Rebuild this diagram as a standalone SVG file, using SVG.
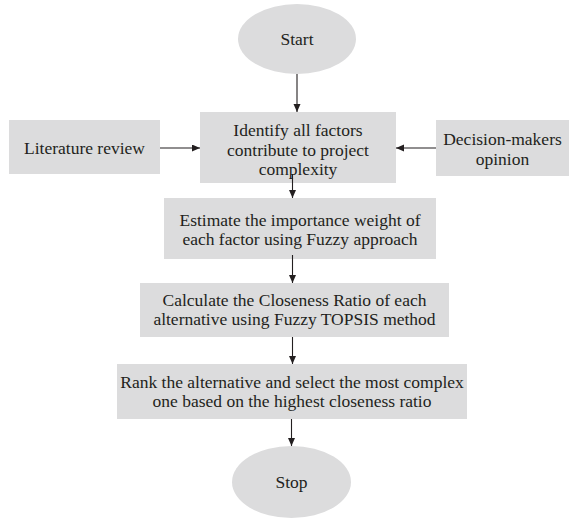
<svg xmlns="http://www.w3.org/2000/svg" width="576" height="520" viewBox="0 0 576 520">
<defs>
<marker id="ah" markerUnits="userSpaceOnUse" markerWidth="10" markerHeight="10" refX="8" refY="3.5" orient="auto">
<path d="M0,0 L8,3.5 L0,7 Z" fill="#231f20"/>
</marker>
<style>
.box{fill:#dcdcdd;stroke:none}
.ell{fill:#dcdcdd;stroke:none}
text{font-family:"Liberation Serif","Times New Roman",serif;font-size:17.5px;fill:#231f20;text-anchor:middle}
.conn line{stroke:#231f20;stroke-width:1.1;marker-end:url(#ah)}
</style>
</defs>
<rect width="576" height="520" fill="#ffffff"/>
<g id="start"><ellipse class="ell" cx="297" cy="39" rx="59" ry="35"/><text x="297" y="45">Start</text></g>
<g id="literature"><rect class="box" x="9" y="120" width="151" height="54"/><text x="84.5" y="154">Literature review</text></g>
<g id="identify"><rect class="box" x="200" y="112" width="196" height="71"/><text x="298" y="136">Identify all factors</text><text x="298" y="155.5">contribute to project</text><text x="298" y="175">complexity</text></g>
<g id="decision"><rect class="box" x="436" y="120" width="133" height="56"/><text x="502.5" y="144.5">Decision-makers</text><text x="502.5" y="164.5">opinion</text></g>
<g id="estimate"><rect class="box" x="164" y="198" width="272" height="61"/><text x="300" y="225.5">Estimate the importance weight of</text><text x="300" y="244.5">each factor using Fuzzy approach</text></g>
<g id="calculate"><rect class="box" x="140" y="283" width="309" height="54"/><text x="294.5" y="306">Calculate the Closeness Ratio of each</text><text x="294.5" y="325">alternative using Fuzzy TOPSIS method</text></g>
<g id="rank"><rect class="box" x="117" y="364" width="350" height="55"/><text x="292" y="388">Rank the alternative and select the most complex</text><text x="292" y="407">one based on the highest closeness ratio</text></g>
<g id="stop"><ellipse class="ell" cx="291.5" cy="482" rx="59.5" ry="36"/><text x="291.5" y="488">Stop</text></g>
<g class="conn" id="connectors">
<line x1="297" y1="74" x2="297" y2="112"/>
<line x1="160" y1="148" x2="200" y2="148"/>
<line x1="436" y1="148" x2="396" y2="148"/>
<line x1="292.5" y1="174" x2="292.5" y2="198"/>
<line x1="292.5" y1="255" x2="292.5" y2="283"/>
<line x1="292.5" y1="337" x2="292.5" y2="364"/>
<line x1="291.5" y1="419" x2="291.5" y2="446"/>
</g>
</svg>
